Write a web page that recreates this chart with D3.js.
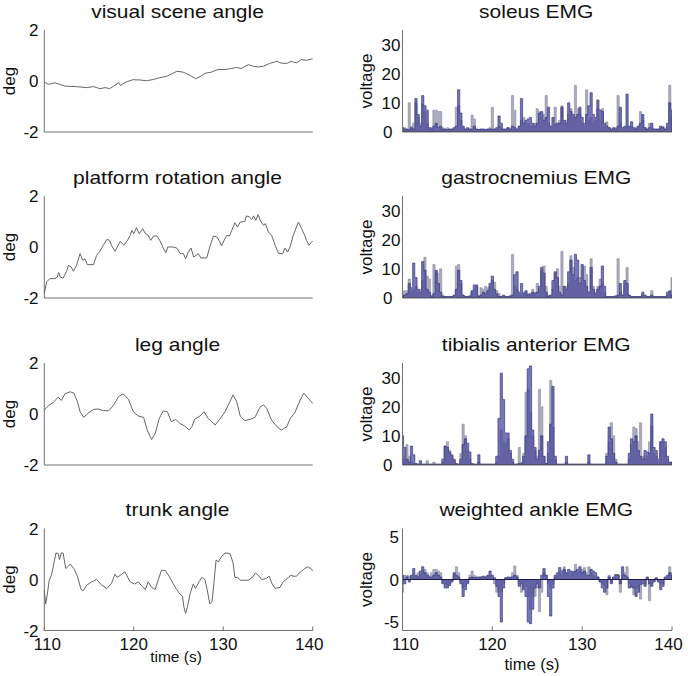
<!DOCTYPE html>
<html><head><meta charset="utf-8">
<script src="https://cdn.jsdelivr.net/npm/d3@7"></script>
<style>body{margin:0;background:#fff}svg{display:block}text{font-family:"Liberation Sans",Arial,sans-serif;fill:#111}</style>
</head><body><div id="chart"></div>
<script>
// ---------- data ----------
const angleTitles = ["visual scene angle","platform rotation angle","leg angle","trunk angle"];
const emgTitles = ["soleus EMG","gastrocnemius EMG","tibialis anterior EMG","weighted ankle EMG"];
const xTicks = [110,120,130,140];
const angleTicks = [-2,0,2];
const emgTicks = [0,10,20,30];
const weightedTicks = [-5,0,5];

const sceneTime = [110,110.45,111.2,112.3,113.6,114.7,115.5,116.2,116.8,117.3,117.9,118.3,118.5,119.2,119.9,120.7,121.4,122.2,122.9,123.7,124.4,124.8,125.5,126.3,126.9,127.4,127.95,128.7,129.4,130.2,130.9,131.5,132.0,132.8,133.35,133.9,134.5,135.2,136.0,136.5,137.1,137.6,138.2,138.75,139.3,140];
const sceneDeg = [-0.04,-0.13,-0.07,-0.2,-0.22,-0.26,-0.22,-0.3,-0.26,-0.3,-0.17,-0.06,-0.17,-0.03,0.05,0.04,0.01,0.06,0.13,0.19,0.3,0.38,0.35,0.22,0.09,0.17,0.3,0.35,0.45,0.45,0.49,0.53,0.49,0.64,0.58,0.55,0.58,0.69,0.77,0.70,0.69,0.77,0.71,0.84,0.81,0.87];

const platformTime = [110,110.26,110.63,111.2,111.45,111.6,111.8,112.1,112.5,112.7,113.0,113.25,113.6,114.0,114.3,114.55,114.8,115.5,115.85,116.2,116.6,117.0,117.3,117.5,117.9,118.3,118.5,118.9,119.3,119.6,119.8,120.0,120.3,120.6,121.0,121.3,121.6,121.9,122.2,122.6,122.9,123.3,123.6,123.8,124.4,124.8,125.2,125.55,125.8,126.1,126.4,126.7,126.95,127.2,127.5,128.15,128.5,128.9,129.3,129.6,129.8,130.1,130.4,130.7,130.95,131.3,131.6,131.9,132.4,132.6,132.9,133.2,133.4,133.65,133.9,134.2,134.5,134.7,135.05,135.4,135.8,136.2,136.65,136.9,137.2,137.5,137.8,138.4,138.8,139.1,139.3,139.6,139.8,140];
const platformDeg = [-1.83,-1.37,-1.24,-1.24,-1.18,-1.0,-1.18,-1.22,-0.95,-0.72,-0.78,-0.95,-0.72,-0.26,-0.52,-0.46,-0.69,-0.69,-0.33,-0.17,0.07,0.3,0.26,0.07,-0.17,0.09,0.22,0.07,0.26,0.46,0.65,0.52,0.76,0.52,0.72,0.52,0.46,0.26,0.43,0.43,0.26,-0.04,-0.22,0.0,0.0,-0.04,-0.26,-0.26,-0.46,-0.2,-0.04,-0.39,-0.33,-0.26,-0.43,-0.43,0.0,0.43,0.39,0.22,0.04,0.26,0.46,0.43,0.65,0.95,0.78,0.98,1.0,1.22,1.18,1.08,1.22,1.05,1.27,1.0,0.85,0.92,0.59,0.46,0.07,-0.26,-0.26,-0.04,-0.2,0.04,0.43,0.98,0.69,0.46,0.26,0.07,0.17,0.22];

const legTime = [110,110.45,111.0,111.55,111.9,112.3,112.9,113.3,113.7,114.0,114.4,114.9,115.5,116.0,116.6,117.2,117.7,118.3,118.8,119.4,119.95,120.5,121.1,121.5,122.0,122.4,122.85,123.3,123.75,124.2,124.7,125.15,125.7,126.2,126.5,126.8,127.4,127.85,128.3,129.1,129.6,130.2,130.75,131.1,131.5,131.9,132.4,133.0,133.55,134.1,134.5,134.85,135.4,136.0,136.5,137.1,137.5,138.0,138.6,139.0,139.5,140];
const legDeg = [0.16,0.32,0.45,0.66,0.53,0.79,0.87,0.82,0.49,0.09,-0.13,0.03,0.18,0.2,0.13,0.13,0.32,0.68,0.79,0.58,0.09,-0.08,-0.13,-0.63,-1.0,-0.76,-0.17,0.12,0.09,-0.3,-0.21,-0.37,-0.47,-0.63,-0.5,-0.21,-0.08,0.09,-0.17,-0.43,-0.21,0.09,0.49,0.75,0.49,-0.08,-0.26,-0.21,-0.13,0.26,0.36,0.22,-0.24,-0.5,-0.63,-0.5,-0.17,0.05,0.55,0.82,0.62,0.42];

const trunkTime = [110,110.15,110.3,110.55,110.8,111.1,111.3,111.55,111.7,111.9,112.1,112.4,112.9,113.3,113.7,114.1,114.35,114.75,115.3,115.85,116.4,117.0,117.5,117.9,118.15,118.5,119.0,119.6,120.1,120.5,120.9,121.3,121.6,122.0,122.4,122.75,123.1,123.55,124.0,124.4,124.8,125.15,125.45,125.6,125.8,126.0,126.3,126.65,126.9,127.3,127.6,127.95,128.2,128.5,128.75,128.95,129.2,129.45,129.8,130.2,130.75,131.1,131.3,131.6,131.95,132.45,132.8,133.3,133.6,133.9,134.3,134.8,135.15,135.4,135.8,136.35,136.7,137.3,137.55,137.85,138.2,138.5,138.95,139.4,139.8,140];
const trunkDeg = [-0.42,-0.96,-0.68,-0.03,0.17,0.69,1.04,1.02,0.78,1.04,1.04,0.43,0.6,0.43,0.13,-0.39,-0.44,-0.22,-0.09,0.0,-0.22,-0.35,-0.16,0.21,0.08,0.17,0.3,-0.09,-0.18,-0.09,-0.26,-0.39,-0.09,-0.31,-0.39,0.0,0.37,0.34,0.1,-0.16,-0.39,-0.57,-0.65,-1.07,-1.33,-1.07,-0.55,-0.18,-0.35,-0.09,0.08,0.0,-0.39,-0.96,-0.87,-0.16,0.76,0.69,0.89,1.04,1.02,0.65,0.08,0.08,-0.03,-0.03,-0.03,0.1,0.26,0.17,0.0,0.04,0.13,-0.13,-0.35,-0.31,-0.09,0.08,0.17,0.13,0.13,0.26,0.39,0.5,0.43,0.34];

// EMG sampled every 0.25 s from 110 to 140 (121 samples); two overlaid traces
const emgTime = d3.range(121).map(i => 110 + i * 0.25);
const soleusBlue = [1.5,1,1,0.8,1.5,1,11.5,6,2,12.5,9,7.5,1.5,1,2,3,1.5,2,1,1,0.8,1,1,1.5,2,14.5,6.5,2,1,1.5,1,1,2,1,0.8,1,1,0.8,1,1,1,1,1.5,5.5,3,1,1,1.5,1,2,1.5,1,2,11.5,3,4,4.5,5,3,2,3,6.5,7,4,5,8.5,2,5,2.5,3,3,8.5,4,3,10,7,6,5,6,8.5,5,3,6,9,13.5,6,5,11,7.5,7,3,2,1.5,1,1.5,1,2,8.5,1.5,2,13,2,3.5,1.5,1,2,3,6,1.5,1,1.5,3,1,1,1,2,1.5,1,3,10,7.5];
const soleusGray = [1,1.5,1,10,2,3,10,5,3,9.5,7,3,1,1.5,7.5,7.5,7,7,1.5,1,1.5,1,1,1,8.5,9,4,1.5,1,1,1,5.8,4.5,1,1,1,1,1,1,1.5,8.5,1,1,2,1.5,1,1,1.5,1,12.5,7.5,1,2,4,5,3,3,2,2,3,8,7,5,6,12.5,3,2,2,8.5,3,4,9,3,4,6,8,5,16,8,6,3,2,14.5,4,5,3,4,8,4,8,2,3.5,1.5,1,1,1.5,12.5,3,1,1.5,2,1.5,2,1,1.5,2,7,4,1.5,1,3,1.5,1,1,1,1.5,2,1,2,16,5];

const gastroBlue = [0.5,1,1.5,5,3.5,12,7,3,2,12.5,9.5,3,2,0.5,1.5,9.5,5,2,0.5,0.5,0.5,0.5,0.5,1,3,9.5,6,1,0.5,0.5,0.5,2.5,4.5,4.5,0.5,1,2,1.5,2.5,5,7.5,3,1.5,0.5,0.5,1,0.5,0.5,0.5,1,8,9,2,5,1.5,2.5,1,1.5,2,1.5,2,4,10.5,8.5,2,0.5,1,6,9,7,2,1,4,3,9,13,8,15,13,5,11.5,6,4,2,10.5,3,1.5,3,4,11,4,0.5,0.5,0.5,0.5,0.5,1,5,1,6,5,1,0.5,0.5,0.5,0.5,0.5,2,1,0.5,0.5,1,0.5,0.5,0.5,0.5,0.5,0.5,2,2.5,1];
const gastroGray = [1,2.5,2.5,6.5,2,3,4,2,3,6,14,7.5,6.5,1,11.5,9,8.5,10,1,0.5,0.5,0.5,0.5,0.5,11,11.5,5,1,0.5,0.5,1,2,3,4,1,3.5,3,4,3.5,4,6,5.5,2.5,1.5,0.5,0.5,0.5,0.5,1,15,4,3,1.5,1,2,1.5,1.5,1,3,2,5,3,9.5,11,4,1,0.5,3,8.5,10,4,16,3,4,5,14.5,10.5,6,7,7,5,11,8,2,13.5,4,2,4,6.5,5,2,0.5,0.5,0.5,0.5,1,13.5,2,1,5,10.5,1,0.5,0.5,0.5,0.5,0.5,1,0.5,0.5,0.5,2.5,0.5,0.5,0.5,0.5,0.5,0.5,1,2,7];

const tibialisBlue = [10,6,2,1,6.5,3.5,0.5,0.3,1.5,0.3,0.3,0.3,0.3,0.3,0.3,0.3,0.3,0.3,2,6.5,6,4.5,3.5,2,0.5,0.3,2,7,9,7.5,4.5,0.5,0.3,0.3,3.5,0.3,0.3,0.3,0.3,0.3,0.3,0.3,3,16,31.5,22.5,11,11,5,2,0.3,0.3,0.5,0.5,3,10,33,34,12,6,2,5,10,3,0.5,8,14,27,3,0.3,0.3,0.3,0.3,3,0.3,0.3,0.3,0.3,0.3,0.3,0.3,0.3,0.3,3.5,0.3,0.3,0.3,0.3,0.3,0.3,0.3,3,13,9,4,1,0.3,0.3,0.3,0.3,0.3,4,9,8,10,5,3,2,5,4.5,4,17.5,6,5,2,8,9,8,3,1,1];
const tibialisGray = [3,2,7,3,1,0.5,0.3,0.3,0.3,0.3,0.3,1.5,0.3,0.3,1,0.3,0.3,0.3,1,6.5,8,5,3,1.5,0.3,0.3,4,14,10,5,2,0.3,0.3,0.3,1,0.3,0.3,0.3,0.3,0.3,0.3,0.3,1,3,12,8,7,9,4,1,0.3,0.3,6,1,4,25,26,18,10,5,3,26,20,3,0.5,4,29,13,2,0.3,0.3,0.3,0.3,1,0.3,0.3,0.3,0.3,0.3,0.3,0.3,0.3,0.3,1,0.3,0.3,0.3,0.3,0.3,0.3,0.3,4,8,14.5,10,2,0.3,0.3,0.3,0.3,0.3,2,7,13,12.5,8,14.5,3,2,3,8,13.5,4,3,1,8,8,6,2,0.5,1];

const weightedBlue = [0.5,-0.5,0.3,-0.3,0.5,1.3,0.5,0.3,1,1.5,0.8,0.5,0.3,0.3,0.5,0.8,0.5,0.3,-0.5,-1,-1,-0.7,-0.3,0.8,0.5,0.3,-0.5,-2,-1.2,-0.5,0.2,0.3,0.2,0.3,0.3,0.3,0.4,0.3,0.5,1,0.5,0.2,-0.8,-2,-5,-1,0.2,0.3,0.2,0.3,0.5,0.3,-0.8,-0.5,-1.2,-2,-5,-5.2,-3.5,-1,-0.5,-1,0.5,1.3,0.5,-2,-4.3,-1,0.5,0.8,1.4,1,1.2,0.8,1.2,1,0.8,1,1.2,1.5,0.8,1,0.5,0.5,1.2,1,0.8,0.3,-0.3,-1,-1.5,-1,0.3,-0.5,0.3,0.6,0.5,-0.5,1.5,0.5,0.3,-1,-0.8,-1,-2,-1.5,-0.6,-0.5,-0.8,0.3,-0.5,-0.8,-0.3,0.2,-0.3,-1.2,-0.8,0.3,0.5,0.8,0.5];
const weightedGray = [-1.5,0.5,0.5,0.4,0.3,0.5,0.3,0.8,0.5,1,1.2,0.8,0.5,0.8,1.2,1.2,1,0.8,-0.3,-0.5,-0.8,-0.5,-0.2,0.5,1.5,0.8,-0.3,-1,-0.8,-0.3,0.5,1,0.5,0.2,0.2,0.3,0.3,0.3,0.4,0.5,0.3,-0.5,-1.5,-1,-1.5,-0.5,0.2,0.2,0.3,0.8,1.6,0.5,-0.5,-1.5,-1,-0.8,-2,-3.5,-2,-2,-1,-3.8,-1.5,0.8,0.5,-0.5,-1,-0.5,0.3,0.5,0.8,0.5,1.5,0.8,0.8,0.5,1,1.8,0.8,1,1.2,1.4,0.8,1.5,0.8,0.5,0.3,0.3,-0.2,-0.5,-0.8,-1.8,0.5,-0.3,0.2,0.5,0.6,-1.5,0.5,0.8,1.5,-0.5,-1,-1.8,-1,-1.2,-2.3,-0.3,-0.5,0.2,-2.5,-0.5,-0.2,0.2,-0.2,-0.5,-0.5,0.2,0.3,1.5,0.8];

// ---------- layout ----------
const W = 688, H = 676;
const leftRange = [44.3, 312.7], rightRange = [402.5, 672];
const rowTops = [30, 196, 363, 528.5], rowH = 102;
const fontTitle = 17.5, titleStretch = 1.2, fontTick = 17, fontLabel = 17;

const svg = d3.select("#chart").append("svg").attr("width", W).attr("height", H);
const xL = d3.scaleLinear().domain([110,140]).range(leftRange);
const xR = d3.scaleLinear().domain([110,140]).range(rightRange);

const angleData = [[sceneTime,sceneDeg],[platformTime,platformDeg],[legTime,legDeg],[trunkTime,trunkDeg]];
const emgData = [[soleusBlue,soleusGray],[gastroBlue,gastroGray],[tibialisBlue,tibialisGray],[weightedBlue,weightedGray]];

const axisColor = "#707070";

function title(g, cx, y, txt) {
  g.append("text").attr("transform", `translate(${cx},${y}) scale(${titleStretch},1)`)
    .attr("text-anchor", "middle").style("font-size", fontTitle + "px").text(txt);
}

function yAxisLabels(g, y, ticks, xPos, anchorFn) {
  ticks.forEach(t => {
    g.append("text").attr("x", xPos(t)).attr("y", y(t)).attr("dy", "0.36em")
      .attr("text-anchor", anchorFn(t)).style("font-size", fontTick + "px").text(t);
  });
}

function xAxisBottom(g, x, y0, isBottom) {
  g.append("line").attr("x1", x.range()[0]).attr("x2", x.range()[1]).attr("y1", y0).attr("y2", y0)
    .attr("stroke", axisColor).attr("stroke-width", 1);
  if (isBottom) {
    xTicks.forEach((t, i) => {
      g.append("line").attr("x1", x(t)).attr("x2", x(t)).attr("y1", y0).attr("y2", y0 - 4)
        .attr("stroke", axisColor);
      const nudge = i === 0 ? 3 : (i === xTicks.length - 1 ? -3.5 : 0);
      g.append("text").attr("x", x(t) + nudge).attr("y", y0 + 19.5).attr("text-anchor", "middle")
        .style("font-size", fontTick + "px").text(t);
    });
  }
}

// ----- left column: angles -----
angleData.forEach(([tt, vv], r) => {
  const top = rowTops[r];
  const y = d3.scaleLinear().domain([-2, 2]).range([top + rowH, top]);
  const g = svg.append("g");
  title(g, (leftRange[0] + leftRange[1]) / 2 - 1, top - 12.5, angleTitles[r]);
  g.append("line").attr("x1", leftRange[0]).attr("x2", leftRange[0]).attr("y1", top).attr("y2", top + rowH)
    .attr("stroke", axisColor);
  xAxisBottom(g, xL, top + rowH, r === 3);
  yAxisLabels(g, y, angleTicks, () => 38.5, () => "end");
  g.append("text").attr("transform", `translate(14.5,${top + rowH / 2}) rotate(-90)`)
    .attr("text-anchor", "middle").style("font-size", fontLabel + "px").text("deg");
  const line = d3.line().x((d, i) => xL(tt[i])).y(d => y(d));
  g.append("path").datum(vv).attr("d", line).attr("fill", "none")
    .attr("stroke", "#666").attr("stroke-width", 1);
});

// ----- right column: EMG -----
emgData.forEach(([blue, gray], r) => {
  const top = rowTops[r];
  const weighted = r === 3;
  const y = weighted ? d3.scaleLinear().domain([-6, 6]).range([top + rowH, top])
                     : d3.scaleLinear().domain([0, 35]).range([top + rowH, top]);
  const g = svg.append("g");
  title(g, (rightRange[0] + rightRange[1]) / 2 - 1, top - 12.5, emgTitles[r]);
  const clipId = "clip" + r;
  svg.append("clipPath").attr("id", clipId).append("rect")
    .attr("x", rightRange[0]).attr("y", top).attr("width", rightRange[1] - rightRange[0]).attr("height", rowH);
  const pg = g.append("g").attr("clip-path", `url(#${clipId})`);
  const area = d3.area().curve(d3.curveStep).x((d, i) => xR(emgTime[i])).y0(y(0)).y1(d => y(d));
  pg.append("path").datum(gray).attr("d", area).attr("fill", "#9c9cb2").attr("fill-opacity", 0.85)
    .attr("stroke", "#80809a").attr("stroke-width", 0.5);
  pg.append("path").datum(blue).attr("d", area).attr("fill", "#4a4a9c").attr("fill-opacity", 0.75)
    .attr("stroke", "#2c2c78").attr("stroke-width", 0.6);
  pg.append("line").attr("x1", rightRange[0]).attr("x2", rightRange[1]).attr("y1", y(0)).attr("y2", y(0))
    .attr("stroke", "#1a1a40").attr("stroke-width", 1.2);
  g.append("line").attr("x1", rightRange[0]).attr("x2", rightRange[0]).attr("y1", top).attr("y2", top + rowH)
    .attr("stroke", axisColor);
  xAxisBottom(g, xR, top + rowH, weighted);
  if (weighted) {
    yAxisLabels(g, y, weightedTicks, () => 399, () => "end");
  } else {
    yAxisLabels(g, y, emgTicks, t => t === 0 ? 383 : 400.5, t => t === 0 ? "start" : "end");
  }
  g.append("text").attr("transform", `translate(372,${top + rowH / 2}) rotate(-90)`)
    .attr("text-anchor", "middle").style("font-size", fontLabel + "px").text("voltage");
});

// x-axis labels
svg.append("text").attr("x", 176).attr("y", 662).attr("text-anchor", "middle")
  .style("font-size", "15.5px").text("time (s)");
svg.append("text").attr("x", 532).attr("y", 670).attr("text-anchor", "middle")
  .style("font-size", "16.5px").text("time (s)");
</script></body></html>
